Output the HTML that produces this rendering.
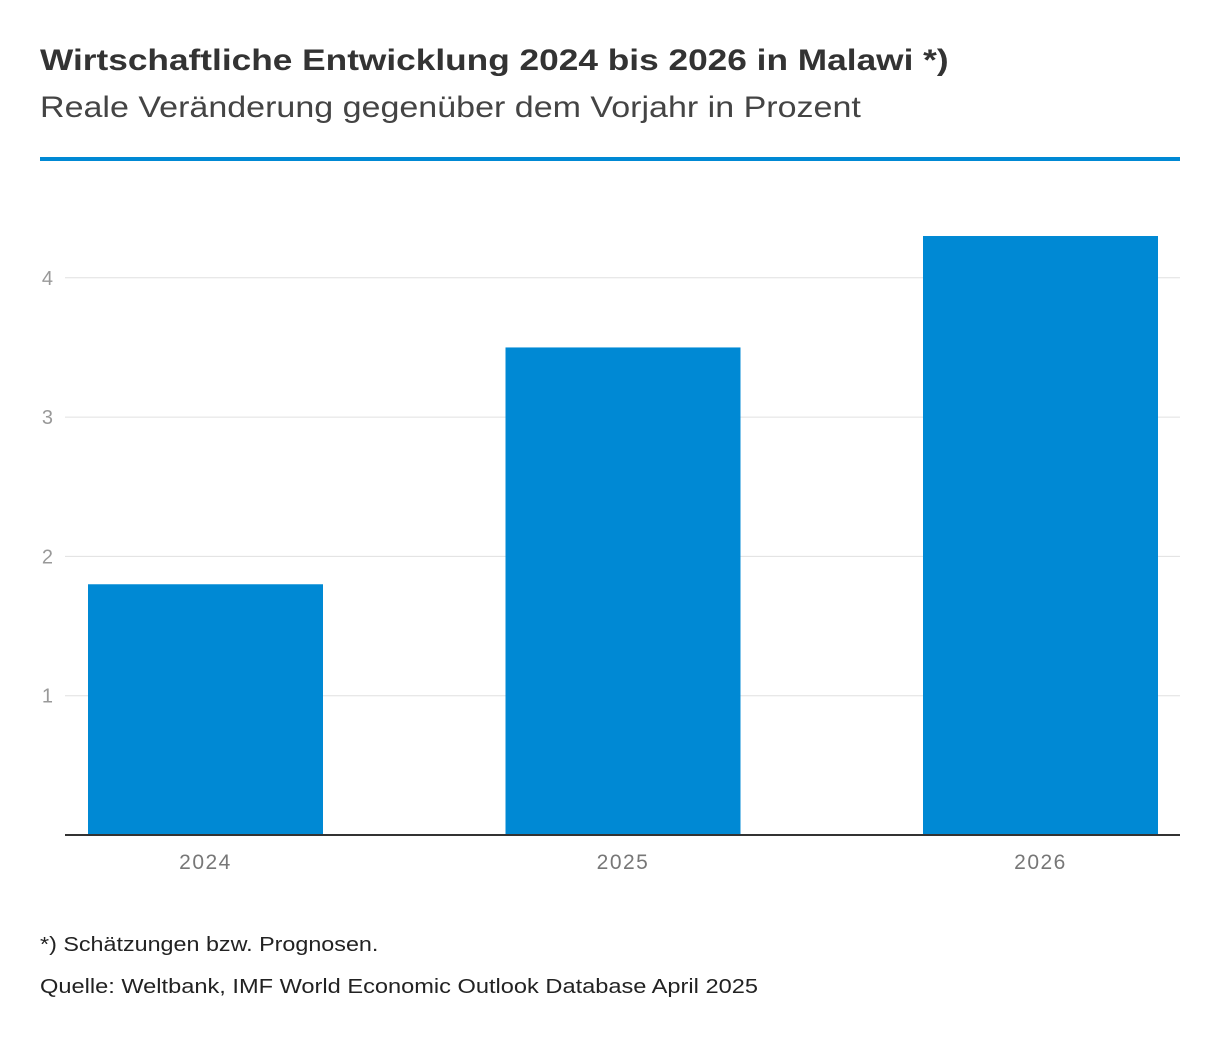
<!DOCTYPE html>
<html><head><meta charset="utf-8">
<style>
body{margin:0;background:#fff;width:1220px;height:1044px;overflow:hidden;font-family:"Liberation Sans",sans-serif;}
.t{position:absolute;left:40px;white-space:nowrap;transform-origin:0 0;}
</style></head><body>
<div class="t" style="top:44px;font-size:30px;font-weight:bold;color:#333;transform:scaleX(1.175);">Wirtschaftliche Entwicklung 2024 bis 2026 in Malawi *)</div>
<div class="t" style="top:91px;font-size:30px;color:#444;transform:scaleX(1.134);">Reale Veränderung gegenüber dem Vorjahr in Prozent</div>
<div style="position:absolute;left:40px;top:157px;width:1140px;height:4px;background:#0089d4;"></div>
<svg id="chart" width="1220" height="1044" style="position:absolute;left:0;top:0"></svg>
<div class="t" style="top:934px;font-size:20px;color:#222;transform:scaleX(1.166);">*) Schätzungen bzw. Prognosen.</div>
<div class="t" style="top:976px;font-size:20px;color:#222;transform:scaleX(1.18);">Quelle: Weltbank, IMF World Economic Outlook Database April 2025</div>
<script>
const categories=["2024","2025","2026"];
const values=[1.8,3.5,4.3];
const yTicks=[1,2,3,4];
const NS="http://www.w3.org/2000/svg";
const svg=document.getElementById('chart');
const x0=65,x1=1180,y0=835,unit=139.3;
const y=v=>y0-v*unit;
const step=417.5, firstCenter=205.5, bw=235;
const xc=i=>firstCenter+i*step;
function mk(t,a){const e=document.createElementNS(NS,t);for(const k in a)e.setAttribute(k,a[k]);svg.appendChild(e);return e;}
yTicks.forEach(v=>{
 const g=mk('line',{x1:x0,x2:x1,y1:y(v),y2:y(v),stroke:'#e0e0e0','stroke-width':1});
 
 
 const t=mk('text',{x:53,y:y(v)+7,'text-anchor':'end','font-size':20,fill:'#999','font-family':'Liberation Sans, sans-serif'});
 t.textContent=v;
 
 
});
categories.forEach((c,i)=>{
 const cx=xc(i);
 const r=mk('rect',{x:cx-bw/2,y:y(values[i]),width:bw,height:values[i]*unit,fill:'#0089d4'});
 
 
 const t=mk('text',{x:cx,y:869,'text-anchor':'middle','font-size':21,fill:'#777','font-family':'Liberation Sans, sans-serif','letter-spacing':1.5});
 t.textContent=c;
 
 
});
const ax=mk('line',{x1:x0,x2:x1,y1:y0,y2:y0,stroke:'#333','stroke-width':2});


</script>
</body></html>
